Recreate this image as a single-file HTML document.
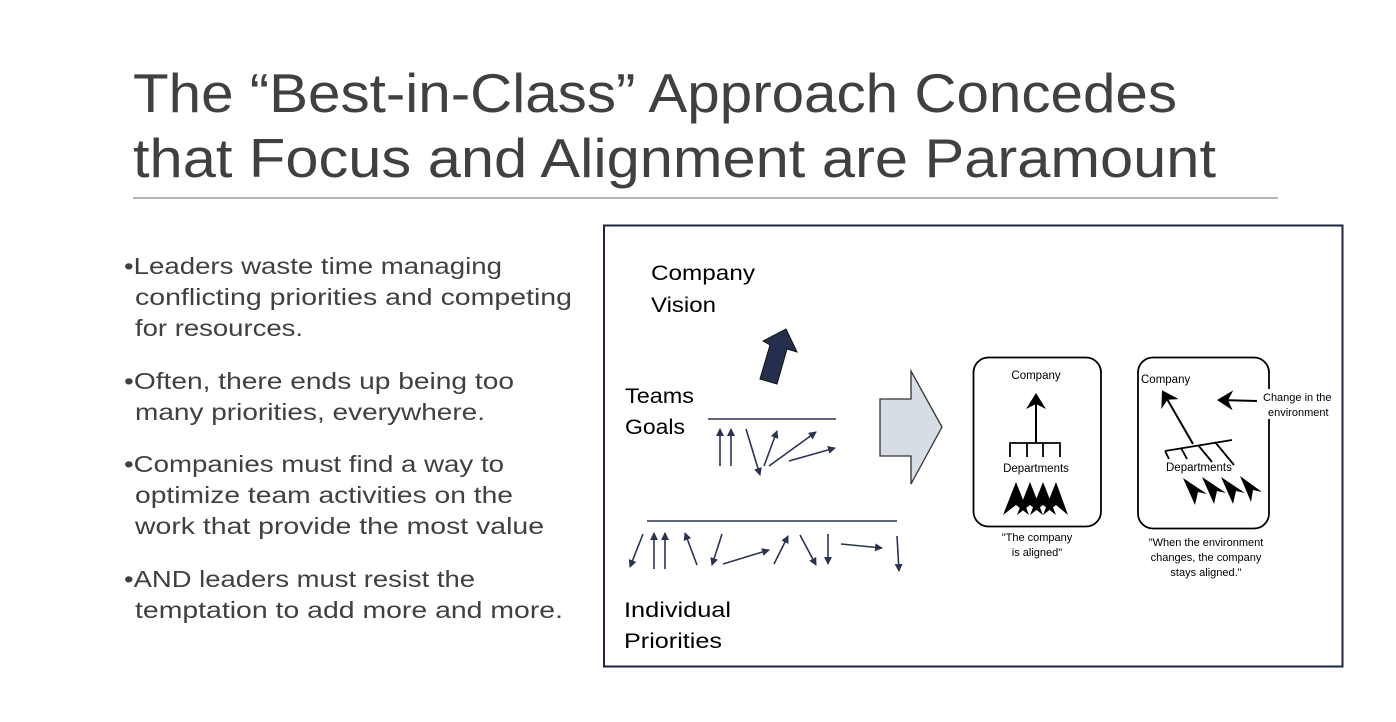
<!DOCTYPE html>
<html><head><meta charset="utf-8"><style>
html,body{margin:0;padding:0;background:#fff;}
svg{display:block;}
</style></head><body>
<svg width="1396" height="722" viewBox="0 0 1396 722" xmlns="http://www.w3.org/2000/svg" font-family="Liberation Sans, sans-serif">
<defs>
<marker id="ah" markerWidth="8" markerHeight="8" refX="7" refY="4" orient="auto" markerUnits="userSpaceOnUse"><path d="M0,0 L8,4 L0,8 Z" fill="#2a3350"/></marker>
<marker id="bh" markerWidth="16" markerHeight="20" refX="14" refY="10" orient="auto" markerUnits="userSpaceOnUse"><path d="M0,0 L16,10 L0,20 L5,10 Z" fill="#000"/></marker>
</defs>
<rect width="1396" height="722" fill="#fff"/>
<g fill="#404040" font-size="55">
<text x="133" y="112" textLength="1044" lengthAdjust="spacingAndGlyphs">The “Best-in-Class” Approach Concedes</text>
<text x="133" y="177" textLength="1083" lengthAdjust="spacingAndGlyphs">that Focus and Alignment are Paramount</text>
</g>
<line x1="133" y1="198" x2="1278" y2="198" stroke="#888" stroke-width="1.3"/>
<g fill="#404040" font-size="23">
<text x="124" y="274" textLength="378" lengthAdjust="spacingAndGlyphs">•Leaders waste time managing</text>
<text x="135" y="305" textLength="437" lengthAdjust="spacingAndGlyphs">conflicting priorities and competing</text>
<text x="135" y="336" textLength="168" lengthAdjust="spacingAndGlyphs">for resources.</text>
<text x="124" y="389" textLength="390" lengthAdjust="spacingAndGlyphs">•Often, there ends up being too</text>
<text x="135" y="420" textLength="350" lengthAdjust="spacingAndGlyphs">many priorities, everywhere.</text>
<text x="124" y="472" textLength="380" lengthAdjust="spacingAndGlyphs">•Companies must find a way to</text>
<text x="135" y="503" textLength="378" lengthAdjust="spacingAndGlyphs">optimize team activities on the</text>
<text x="135" y="534" textLength="409" lengthAdjust="spacingAndGlyphs">work that provide the most value</text>
<text x="124" y="587" textLength="351" lengthAdjust="spacingAndGlyphs">•AND leaders must resist the</text>
<text x="135" y="618" textLength="428" lengthAdjust="spacingAndGlyphs">temptation to add more and more.</text>
</g>
<rect x="604" y="225.5" width="738.5" height="441" fill="#fff" stroke="#1f2640" stroke-width="2"/>
<g fill="#000" font-size="21">
<text x="651" y="280" textLength="104" lengthAdjust="spacingAndGlyphs">Company</text>
<text x="651" y="312" textLength="65" lengthAdjust="spacingAndGlyphs">Vision</text>
<text x="625" y="403" textLength="69" lengthAdjust="spacingAndGlyphs">Teams</text>
<text x="625" y="434" textLength="60" lengthAdjust="spacingAndGlyphs">Goals</text>
<text x="624" y="617" textLength="107" lengthAdjust="spacingAndGlyphs">Individual</text>
<text x="624" y="648" textLength="98" lengthAdjust="spacingAndGlyphs">Priorities</text>
</g>
<polygon points="760,379 770,345 763,341 786,329 797,352 787,349 777,384" fill="#252f4d" stroke="#111" stroke-width="1"/>
<polygon points="880,399 911,399 911,371 942,427 911,484 911,456 880,456" fill="#d7dde5" stroke="#333" stroke-width="1.3"/>
<g stroke="#2a3350" stroke-width="1.6" marker-end="url(#ah)">
<line x1="708" y1="419" x2="836" y2="419" marker-end="none"/>
<line x1="720" y1="466" x2="720" y2="429"/>
<line x1="731" y1="466" x2="731" y2="429"/>
<line x1="746" y1="429" x2="760" y2="475"/>
<line x1="764" y1="466" x2="777" y2="431"/>
<line x1="769" y1="466" x2="816" y2="432"/>
<line x1="789" y1="461" x2="835" y2="448"/>
<line x1="647" y1="521" x2="897" y2="521" marker-end="none"/>
<line x1="643" y1="534" x2="630" y2="567"/>
<line x1="654" y1="569" x2="654" y2="533"/>
<line x1="665" y1="569" x2="665" y2="533"/>
<line x1="697" y1="565" x2="685" y2="533"/>
<line x1="722" y1="534" x2="712" y2="565"/>
<line x1="723" y1="564" x2="769" y2="550"/>
<line x1="774" y1="564" x2="788" y2="536"/>
<line x1="800" y1="535" x2="816" y2="565"/>
<line x1="828" y1="534" x2="828" y2="564"/>
<line x1="841" y1="544" x2="882" y2="548"/>
<line x1="897" y1="536" x2="899" y2="571"/>
</g>
<g font-family="Liberation Sans, sans-serif" font-size="11.5" fill="#000">
<rect x="973.5" y="357.5" width="127.5" height="169" rx="15" fill="none" stroke="#000" stroke-width="1.8"/>
<text x="1036" y="379" text-anchor="middle">Company</text>
<line x1="1036" y1="443" x2="1036" y2="395" stroke="#000" stroke-width="2" marker-end="url(#bh)"/>
<path d="M1010,457 V443 H1060 V457 M1027,443 V457 M1043,443 V457" fill="none" stroke="#000" stroke-width="1.8"/>
<text x="1036" y="472" text-anchor="middle">Departments</text>
<g fill="#000">
<path d="M1016,482 L1029,515 L1016,505 L1003,515 Z"/>
<path d="M1030,482 L1043,515 L1030,505 L1017,515 Z"/>
<path d="M1043,482 L1056,515 L1043,505 L1030,515 Z"/>
<path d="M1056,482 L1068,515 L1056,505 L1043,515 Z"/>
</g>
<text x="1037" y="541" text-anchor="middle" font-size="11">"The company</text>
<text x="1037" y="556" text-anchor="middle" font-size="11">is aligned"</text>
<rect x="1138" y="357.5" width="131" height="171" rx="15" fill="none" stroke="#000" stroke-width="1.8"/>
<text x="1141" y="383">Company</text>
<line x1="1193" y1="444" x2="1163" y2="392" stroke="#000" stroke-width="2" marker-end="url(#bh)"/>
<path d="M1165,451 L1232,440 M1165,451 L1169,459 M1181,448 L1187,459 M1198,445 L1212,462 M1215,442 L1234,465" fill="none" stroke="#000" stroke-width="1.8"/>
<text x="1166" y="471">Departments</text>
<g fill="#000">
<path d="M1183,478 L1207,494 L1198,492 L1195,505 Z"/>
<path d="M1202,477 L1226,493 L1217,491 L1214,504 Z"/>
<path d="M1221,477 L1245,493 L1236,491 L1233,504 Z"/>
<path d="M1240,476 L1262,492 L1253,490 L1251,502 Z"/>
</g>
<line x1="1257" y1="401" x2="1219" y2="400" stroke="#000" stroke-width="2" marker-end="url(#bh)"/>
<rect x="1262" y="389" width="74" height="30" fill="#fff"/>
<text x="1263" y="401" font-size="11">Change in the</text>
<text x="1268" y="416" font-size="11">environment</text>
<text x="1206" y="546" text-anchor="middle" font-size="11">"When the environment</text>
<text x="1206" y="561" text-anchor="middle" font-size="11">changes, the company</text>
<text x="1206" y="576" text-anchor="middle" font-size="11">stays aligned."</text>
</g>
</svg>
</body></html>
